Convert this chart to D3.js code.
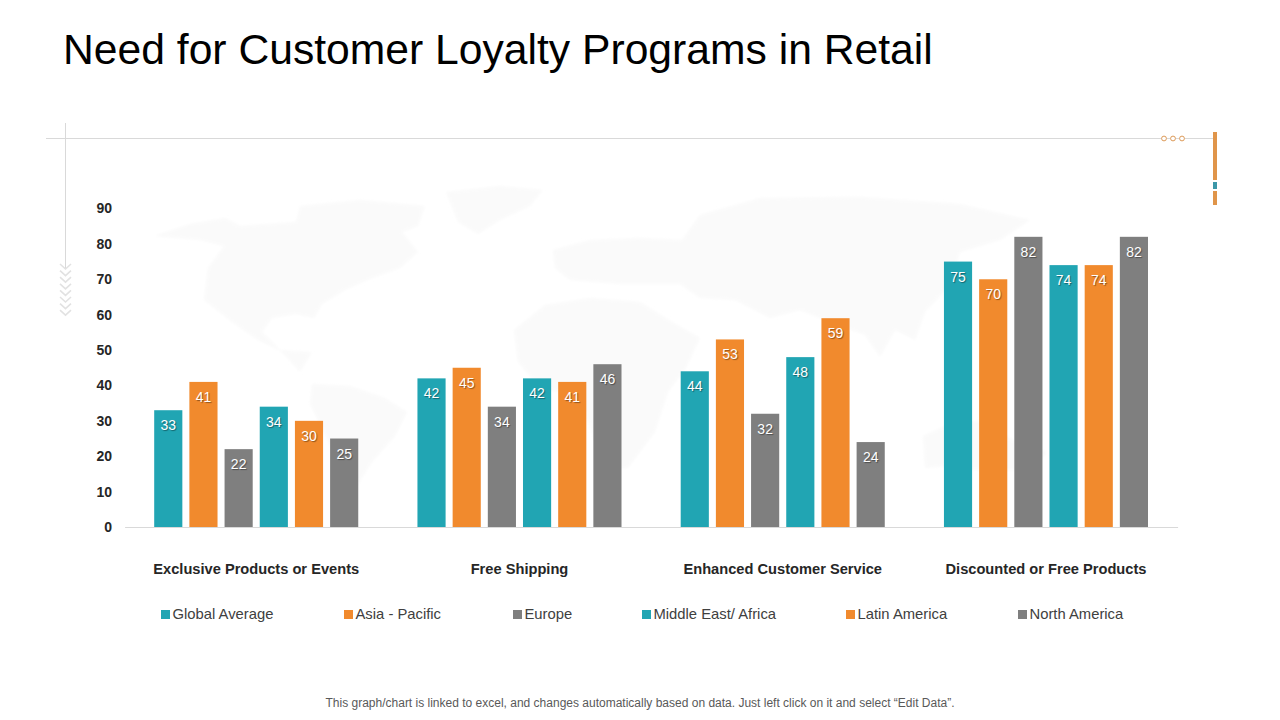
<!DOCTYPE html>
<html>
<head>
<meta charset="utf-8">
<script src="https://cdn.jsdelivr.net/npm/d3@7"></script>
<style>
  html, body { margin: 0; padding: 0; background: #fff; }
  svg { display: block; font-family: "Liberation Sans", Arial, sans-serif; }
</style>
</head>
<body>
<svg id="chart" width="1280" height="720"></svg>
<script>
var categories = ["Exclusive Products or Events", "Free Shipping", "Enhanced Customer Service", "Discounted or Free Products"];
var seriesNames = ["Global Average", "Asia - Pacific", "Europe", "Middle East/ Africa", "Latin America", "North America"];
var globalAverage = [33, 42, 44, 75];
var asiaPacific = [41, 45, 53, 70];
var europe = [22, 34, 32, 82];
var middleEastAfrica = [34, 42, 48, 74];
var latinAmerica = [30, 41, 59, 74];
var northAmerica = [25, 46, 24, 82];
var seriesValues = [globalAverage, asiaPacific, europe, middleEastAfrica, latinAmerica, northAmerica];
var yTicks = [0, 10, 20, 30, 40, 50, 60, 70, 80, 90];

var teal = "#21a5b3", orange = "#f18a2d", grey = "#7f7f7f";
var seriesColors = [teal, orange, grey, teal, orange, grey];
var legendLeft = [161, 344, 513, 642, 846, 1018];

var svg = d3.select("#chart");

var blur = svg.append("defs").append("filter").attr("id", "soft");
blur.append("feGaussianBlur").attr("stdDeviation", 1.6);

// title
svg.append("text").attr("x", 63).attr("y", 64)
    .attr("font-size", 42.65).attr("fill", "#000")
    .text("Need for Customer Loyalty Programs in Retail");

// faint world map behind the chart, rough outlines only
var mapShapes = [
    "M154,236 L190,224 L225,218 L240,226 L296,222 L300,206 L360,200 L425,206 L418,226 L402,232 L418,252 L400,268 L372,278 L345,290 L322,304 L314,318 L296,314 L272,318 L262,332 L280,350 L312,352 L300,372 L282,352 L258,340 L232,322 L204,300 L208,268 L224,246 L200,240 Z",
    "M312,384 L350,386 L385,398 L407,412 L395,436 L372,462 L352,494 L340,490 L336,458 L322,428 L310,404 Z",
    "M446,192 L500,186 L543,190 L530,206 L500,220 L478,234 L458,222 Z",
    "M553,250 L590,240 L640,238 L682,240 L700,215 L760,198 L860,197 L960,204 L1030,220 L1000,240 L960,252 L950,285 L925,312 L915,340 L895,330 L880,357 L865,335 L830,322 L800,310 L770,318 L735,300 L700,298 L680,284 L620,284 L570,280 L555,268 Z",
    "M514,330 L545,305 L590,298 L640,302 L672,322 L700,338 L686,368 L668,392 L655,432 L628,468 L602,470 L592,432 L578,396 L540,388 L518,362 Z",
    "M923,436 L950,424 L985,420 L1012,440 L1047,452 L1030,470 L975,470 L945,466 L925,468 Z"
];
svg.append("g").attr("filter", "url(#soft)")
    .selectAll("path").data(mapShapes).enter().append("path")
    .attr("d", function (d) { return d; })
    .attr("fill", "#fafafa");

// frame lines top left
svg.append("line").attr("x1", 46).attr("x2", 1213).attr("y1", 138.5).attr("y2", 138.5).attr("stroke", "#d9d9d9");
svg.append("line").attr("x1", 65.5).attr("x2", 65.5).attr("y1", 123).attr("y2", 268).attr("stroke", "#d9d9d9");

// chevrons
d3.range(8).forEach(function (i) {
    var cy = 264 + i * 6.6;
    svg.append("path").attr("d", "M60," + cy + " L65.5," + (cy + 5) + " L71," + cy)
        .attr("fill", "none").attr("stroke", "#e2e2e2").attr("stroke-width", 1.6);
});

// three small circles and the side bar
[1164, 1173, 1182].forEach(function (cx) {
    svg.append("circle").attr("cx", cx).attr("cy", 138.5).attr("r", 2.4)
        .attr("fill", "#fff").attr("stroke", "#dd9a58").attr("stroke-width", 1);
});
svg.append("rect").attr("x", 1213).attr("y", 132).attr("width", 4).attr("height", 48).attr("fill", "#e0954a");
svg.append("rect").attr("x", 1213).attr("y", 182).attr("width", 4).attr("height", 7).attr("fill", "#3b97a8");
svg.append("rect").attr("x", 1213).attr("y", 191).attr("width", 4).attr("height", 14).attr("fill", "#e0954a");

// scales
var x0 = d3.scaleBand().domain(categories).range([124.6, 1177.6]);
var groupPad = 29.6;
var x1 = d3.scaleBand().domain(seriesNames)
    .range([groupPad, x0.bandwidth() - groupPad]).paddingInner(0.2);
var y = d3.scaleLinear().domain([0, 90]).range([527, 208.5]);

// y axis
var yAxis = svg.append("g").attr("transform", "translate(116,0)")
    .call(d3.axisLeft(y).tickValues(yTicks).tickSize(0).tickPadding(4));
yAxis.select(".domain").remove();
yAxis.selectAll("text").attr("font-size", 14).attr("font-weight", "bold")
    .attr("font-family", "'Liberation Sans', Arial, sans-serif").attr("fill", "#262626");

// x axis
var xAxis = svg.append("g").attr("transform", "translate(0,527)")
    .call(d3.axisBottom(x0).tickSize(0).tickPadding(37));
xAxis.select(".domain").attr("stroke", "#d9d9d9");
xAxis.selectAll("text").attr("font-size", 14.65).attr("font-weight", "bold")
    .attr("font-family", "'Liberation Sans', Arial, sans-serif").attr("fill", "#262626");

// bars and labels
seriesNames.forEach(function (name, s) {
    var rows = categories.map(function (c, i) { return { cat: c, value: seriesValues[s][i] }; });
    var g = svg.append("g");
    g.selectAll("rect").data(rows).enter().append("rect")
        .attr("x", function (d) { return x0(d.cat) + x1(name); })
        .attr("y", function (d) { return y(d.value); })
        .attr("width", x1.bandwidth())
        .attr("height", function (d) { return 527 - y(d.value); })
        .attr("fill", seriesColors[s]);
    g.selectAll("text").data(rows).enter().append("text")
        .attr("x", function (d) { return x0(d.cat) + x1(name) + x1.bandwidth() / 2; })
        .attr("y", function (d) { return y(d.value) + 20; })
        .attr("text-anchor", "middle")
        .attr("font-size", 14).attr("fill", "#fff")
        .style("text-shadow", "1px 1px 1px rgba(0,0,0,0.4)")
        .text(function (d) { return d.value; });
});

// legend
var legend = svg.append("g").selectAll("g").data(seriesNames).enter().append("g")
    .attr("transform", function (d, i) { return "translate(" + legendLeft[i] + ",610)"; });
legend.append("rect").attr("width", 9).attr("height", 9)
    .attr("fill", function (d, i) { return seriesColors[i]; });
legend.append("text").attr("x", 11.5).attr("y", 9)
    .attr("font-size", 14.8).attr("fill", "#404040")
    .text(function (d) { return d; });

// footnote
svg.append("text").attr("x", 640).attr("y", 707).attr("text-anchor", "middle")
    .attr("font-size", 12).attr("fill", "#595959")
    .text("This graph/chart is linked to excel, and changes automatically based on data. Just left click on it and select \u201CEdit Data\u201D.");
</script>
</body>
</html>
